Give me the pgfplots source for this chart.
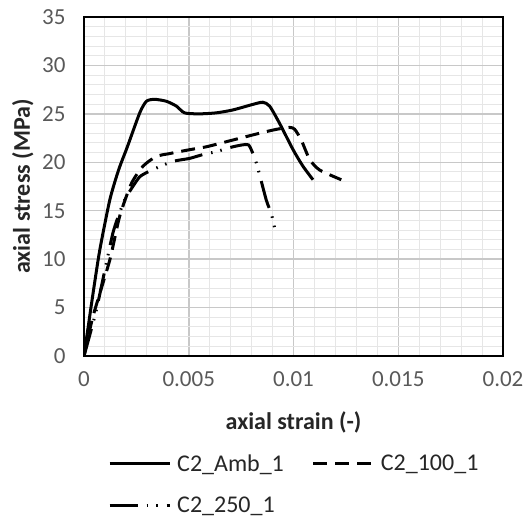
\documentclass[border=0pt]{standalone}
\usepackage{fontspec}
\setmainfont{Carlito}
\usepackage{pgfplots}
\pgfplotsset{compat=1.18}
\definecolor{tickgray}{HTML}{595959}
\definecolor{majgrid}{HTML}{C8C8C8}
\definecolor{mingrid}{HTML}{E6E6E6}
\definecolor{labcol}{HTML}{262626}
\begin{document}
\begin{tikzpicture}
\useasboundingbox (0,0) rectangle (529pt,521pt);
\begin{axis}[
  at={(84pt,165pt)}, anchor=south west,
  scale only axis, width=419pt, height=339pt,
  xmin=0, xmax=0.02, ymin=0, ymax=35,
  scaled x ticks=false, scaled y ticks=false,
  xtick={0,0.005,0.01,0.015,0.02},
  xticklabels={0,0.005,0.01,0.015,0.02},
  ytick={0,5,...,35},
  yticklabels={0,5,10,15,20,25,30,35},
  minor x tick num=4, minor y tick num=4,
  grid=both,
  major grid style={majgrid, line width=1.5pt},
  minor grid style={mingrid, line width=1pt},
  major tick length=0pt, minor tick length=0pt,
  axis line style={black, line width=2.5pt},
  tick label style={font=\fontsize{23}{27}\selectfont, text=tickgray},
  yticklabel style={xshift=-15pt},
  xticklabel style={yshift=-12pt},
  label style={font=\bfseries\fontsize{24}{28}\selectfont, text=labcol},
  xlabel={axial strain (-)},
  ylabel={axial stress (MPa)},
  xlabel style={at={(0.5,0)}, anchor=north, yshift=-52pt},
  ylabel style={at={(0,0.5)}, anchor=south, yshift=47pt},
  legend columns=2,
  legend style={draw=none, fill=none, at={(0.0573,-0.378)}, anchor=west,
    font=\fontsize{24}{28}\selectfont, text=labcol,
    nodes={inner ysep=0.5pt},
    /tikz/every odd column/.append style={column sep=4pt},
    /tikz/every even column/.append style={column sep=26pt},
    row sep=23pt, inner sep=0pt, cells={anchor=west}},
  legend cell align=left,
  legend image code/.code={\draw[#1] (0pt,0pt) -- (60pt,0pt);},
  every axis plot/.append style={line width=3pt, black},
]
\addplot[smooth, tension=0.4] coordinates {
(0,0) (0.0004,6) (0.00075,10.9) (0.00123,16.1) (0.00165,19.2) (0.00207,21.6)
(0.00266,25.1) (0.00298,26.3) (0.00337,26.5) (0.00393,26.3) (0.00441,25.8)
(0.0048,25.1) (0.0055,25.0) (0.0063,25.1) (0.0071,25.4) (0.0081,26.0)
(0.00854,26.2) (0.00886,25.8) (0.00934,24.0) (0.00998,21.3) (0.01045,19.6)
(0.01093,18.2)};
\addlegendentry{C2\_Amb\_1}
\addplot[smooth, tension=0.4, dash pattern=on 14pt off 8pt] coordinates {
(0,0) (0.00043,4.1) (0.00123,9.9) (0.0017,14.4) (0.00226,17.8) (0.00282,19.6)
(0.00345,20.6) (0.00409,20.9) (0.00504,21.3) (0.00584,21.6) (0.00711,22.3)
(0.00838,23.0) (0.00918,23.4) (0.00982,23.6) (0.01006,23.4) (0.01037,22.3)
(0.01077,20.3) (0.01125,19.2) (0.01228,18.2)};
\addlegendentry{C2\_100\_1}
\addplot[smooth, tension=0.3, dash pattern=on 28pt off 9pt on 1.5pt off 8pt on 1.5pt off 9pt] coordinates {
(0,0) (0.00059,4.75) (0.00138,12.7) (0.00194,16.1) (0.00266,18.5) (0.00345,19.4)
(0.00425,20.1) (0.00504,20.4) (0.00568,20.8) (0.00632,21.1) (0.00711,21.6)
(0.00785,21.8) (0.00823,19.9) (0.0087,16.1) (0.00894,14.7) (0.0091,13.2)};
\addlegendentry{C2\_250\_1}
\end{axis}
\end{tikzpicture}
\end{document}
